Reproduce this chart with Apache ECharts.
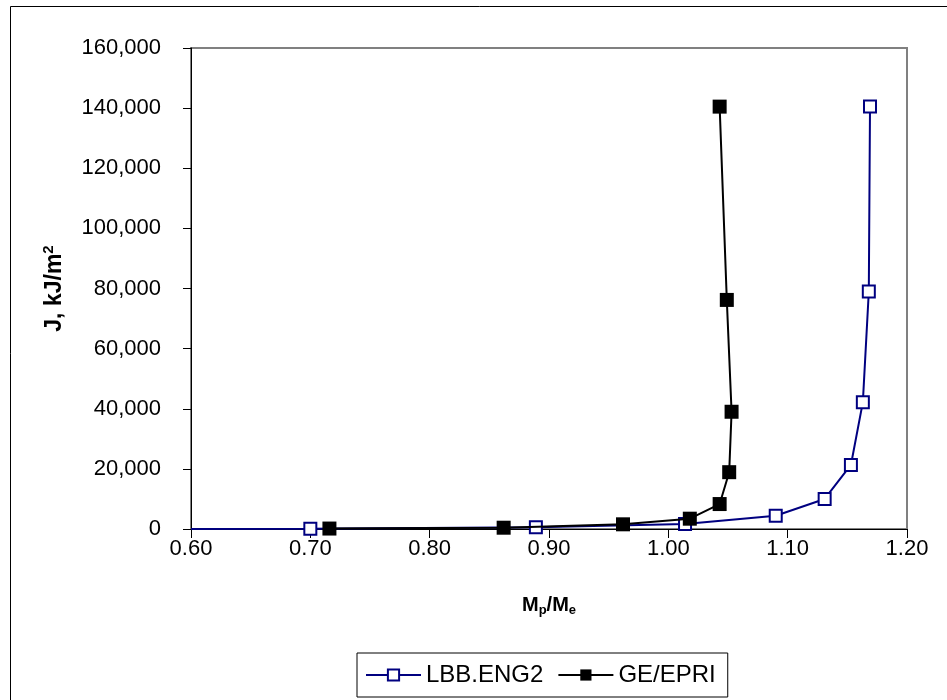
<!DOCTYPE html>
<html>
<head>
<meta charset="utf-8">
<script src="https://cdn.jsdelivr.net/npm/echarts@6/dist/echarts.min.js"></script>
<style>html,body{margin:0;padding:0;background:#fff}#c{width:947px;height:700px}</style>
</head>
<body>
<div id="c"></div>
<script>
var lbbName = 'LBB.ENG2';
var geName = 'GE/EPRI';
var lbbX = [0.60, 0.700, 0.889, 1.014, 1.090, 1.131, 1.153, 1.163, 1.168, 1.169];
var lbbY = [0, 100, 600, 1700, 4400, 10000, 21300, 42200, 79000, 140500];
var geX = [0.716, 0.862, 0.962, 1.018, 1.043, 1.051, 1.053, 1.049, 1.043];
var geY = [150, 430, 1560, 3430, 8300, 18900, 39000, 76200, 140500];
var xTicks = {min: 0.6, max: 1.2, interval: 0.1};
var yTicks = {min: 0, max: 160000, interval: 20000};

var lbbData = lbbX.map(function (x, i) {
  var d = {value: [x, lbbY[i]]};
  if (i === 0) d.symbol = 'none';
  return d;
});
var geData = geX.map(function (x, i) { return [x, geY[i]]; });

var chart = echarts.init(document.getElementById('c'), null, {renderer: 'canvas'});
var font = 'Liberation Sans, Arial, sans-serif';
chart.setOption({
  backgroundColor: '#fff',
  animation: false,
  textStyle: {fontFamily: font},
  graphic: [{
    type: 'rect', left: 8, top: 4, silent: true,
    shape: {x: 0, y: 0, width: 938, height: 695},
    style: {fill: null, stroke: '#000', lineWidth: 1}
  }],
  grid: {left: 191, top: 48, right: 40, bottom: 171, show: true, borderColor: '#808080', borderWidth: 2, backgroundColor: 'transparent'},
  xAxis: {
    type: 'value', min: xTicks.min, max: xTicks.max, interval: xTicks.interval,
    name: '{b|M}{s|p}{b|/M}{s|e}', nameLocation: 'middle', nameGap: 64,
    nameTextStyle: {
      rich: {
        b: {fontSize: 20, fontWeight: 'bold', fontFamily: font, color: '#000'},
        s: {fontSize: 13, fontWeight: 'bold', fontFamily: font, color: '#000', padding: [11, 0, 0, 0]}
      }
    },
    axisLine: {show: true, lineStyle: {color: '#000', width: 1}},
    axisTick: {show: true, length: 9, lineStyle: {color: '#000'}},
    axisLabel: {fontSize: 22, color: '#000', margin: 9, fontFamily: font, formatter: function (v) { return v.toFixed(2); }},
    splitLine: {show: false}
  },
  yAxis: {
    type: 'value', min: yTicks.min, max: yTicks.max, interval: yTicks.interval,
    name: '{b|J, kJ/m}{s|2}', nameLocation: 'middle', nameGap: 122, nameRotate: 90,
    nameTextStyle: {
      rich: {
        b: {fontSize: 23, fontWeight: 'bold', fontFamily: font, color: '#000'},
        s: {fontSize: 15, fontWeight: 'bold', fontFamily: font, color: '#000', padding: [0, 0, 13, 0]}
      }
    },
    axisLine: {show: true, lineStyle: {color: '#000', width: 1}},
    axisTick: {show: true, length: 8, lineStyle: {color: '#000'}},
    axisLabel: {fontSize: 22, color: '#000', margin: 30, fontFamily: font, formatter: function (v) { return v.toLocaleString('en-US'); }},
    splitLine: {show: false}
  },
  legend: {
    left: 357, top: 653, orient: 'horizontal',
    padding: [10, 12, 10, 8], itemGap: 14, itemWidth: 55, itemHeight: 14,
    borderColor: '#000', borderWidth: 1,
    textStyle: {fontSize: 24, color: '#000', fontFamily: font},
    data: [lbbName, geName]
  },
  series: [{
    name: lbbName, type: 'line', data: lbbData,
    symbol: 'rect', symbolSize: 12,
    lineStyle: {color: '#000080', width: 2},
    itemStyle: {color: '#fff', borderColor: '#000080', borderWidth: 2},
    z: 2
  }, {
    name: geName, type: 'line', data: geData,
    symbol: 'rect', symbolSize: 14,
    lineStyle: {color: '#000', width: 2},
    itemStyle: {color: '#000', borderColor: '#000', borderWidth: 0},
    z: 3
  }]
});
</script>
</body>
</html>
